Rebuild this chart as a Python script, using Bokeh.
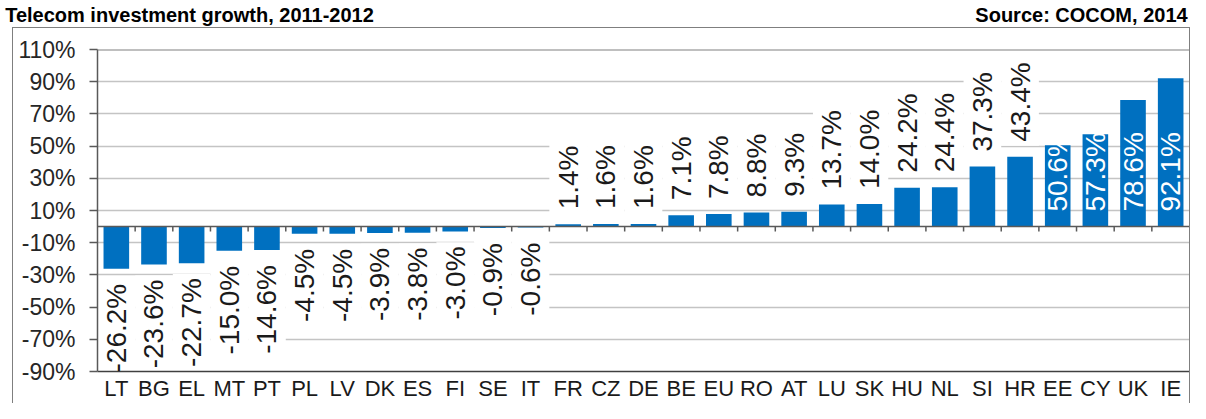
import math
from bokeh.plotting import figure
from bokeh.models import (ColumnDataSource, LabelSet, Span, Range1d, LinearAxis,
                          FixedTicker, PrintfTickFormatter)
from bokeh.core.properties import value
from bokeh.embed import file_html
from bokeh.resources import INLINE

# ---------------- data ----------------
countries = ["LT", "BG", "EL", "MT", "PT", "PL", "LV", "DK", "ES", "FI", "SE", "IT",
             "FR", "CZ", "DE", "BE", "EU", "RO", "AT", "LU", "SK", "HU", "NL", "SI",
             "HR", "EE", "CY", "UK", "IE"]
growth = [-26.2, -23.6, -22.7, -15.0, -14.6, -4.5, -4.5, -3.9, -3.8, -3.0, -0.9, -0.6,
          1.4, 1.6, 1.6, 7.1, 7.8, 8.8, 9.3, 13.7, 14.0, 24.2, 24.4, 37.3,
          43.4, 50.6, 57.3, 78.6, 92.1]
y_ticks = [-90, -70, -50, -30, -10, 10, 30, 50, 70, 90, 110]
inside_labels = ["EE", "CY", "UK", "IE"]
title_text = "Telecom investment growth, 2011-2012"
source_text = "Source: COCOM, 2014"

# ---------------- style / layout ----------------
FONT = "Liberation Sans"
BAR = "#0070C0"
LBL_FS = 28          # data label font size (px)
OFF = 15             # gap between bar end and label (px)
PAD = 4              # white box padding around labels (px)

W, H = 1190, 403
ML, MR, MT, MB = 97, 1, 48, 29
FW, FH = W - ML - MR, H - MT - MB
YMIN, YMAX = y_ticks[0], y_ticks[-1]
ppu = FH / (YMAX - YMIN)
N = len(countries)
xpos = [i + 0.5 for i in range(N)]          # category centres on the x scale

ARIAL_W = {**{d: 0.556 for d in "0123456789"}, ".": 0.278, "-": 0.333, "%": 0.889}


def text_px(t):
    return sum(ARIAL_W.get(ch, 0.556) for ch in t) * LBL_FS


labels = [f"{v:.1f}%" for v in growth]
src = ColumnDataSource(dict(x=xpos, v=growth, t=labels))

neg_idx = [i for i, v in enumerate(growth) if v < 0]
pos_idx = [i for i, v in enumerate(growth) if v >= 0 and countries[i] not in inside_labels]
ins_idx = [i for i in range(N) if countries[i] in inside_labels]

neg = ColumnDataSource(dict(
    x=[xpos[i] for i in neg_idx], v=[growth[i] for i in neg_idx], t=[labels[i] for i in neg_idx],
    top=[growth[i] - (OFF - PAD) / ppu for i in neg_idx],
    bot=[growth[i] - (OFF + text_px(labels[i]) + PAD) / ppu for i in neg_idx]))
pos = ColumnDataSource(dict(
    x=[xpos[i] for i in pos_idx], v=[growth[i] for i in pos_idx], t=[labels[i] for i in pos_idx],
    bot=[growth[i] + (OFF - PAD) / ppu for i in pos_idx],
    top=[growth[i] + (OFF + text_px(labels[i]) + PAD) / ppu for i in pos_idx]))
ins = ColumnDataSource(dict(
    x=[xpos[i] for i in ins_idx], v=[0 for i in ins_idx], t=[labels[i] for i in ins_idx]))
bounds = ColumnDataSource(dict(x=list(range(1, N))))

p = figure(x_range=Range1d(0, N), y_range=Range1d(YMIN, YMAX),
           width=W, height=H, output_backend="svg", toolbar_location=None,
           min_border_left=ML, min_border_right=MR, min_border_top=MT, min_border_bottom=MB,
           stylesheets=[":host { position: relative; }",
                        ":host::after { content: ''; position: absolute; left: 12px; top: 27px; "
                        "right: 0px; bottom: 0px; border: 1.5px solid #7f7f7f; border-bottom: none; "
                        "pointer-events: none; }"])
p.outline_line_color = None
p.background_fill_color = "white"
p.border_fill_color = "white"

# grid
p.xgrid.grid_line_color = None
p.ygrid.ticker = FixedTicker(ticks=y_ticks[1:-1])
p.ygrid.grid_line_color = "#C4C4C4"
p.ygrid.grid_line_width = 1.5

# y axis
p.yaxis.ticker = FixedTicker(ticks=y_ticks)
p.yaxis.formatter = PrintfTickFormatter(format="%d%%")
p.yaxis.major_label_text_font = FONT
p.yaxis.major_label_text_font_size = "23px"
p.yaxis.major_label_text_color = "#262626"
p.yaxis.axis_line_color = "#595959"
p.yaxis.axis_line_width = 1.5
p.yaxis.major_tick_line_color = "#595959"
p.yaxis.major_tick_line_width = 1.5
p.yaxis.major_tick_out = 8
p.yaxis.major_tick_in = 0
p.yaxis.minor_tick_line_color = None
p.yaxis.major_label_standoff = 14

# x axis: country labels at the bottom, its line forms the bottom frame
p.xaxis.ticker = FixedTicker(ticks=xpos)
p.xaxis.major_label_overrides = {x: c for x, c in zip(xpos, countries)}
p.xaxis.major_label_text_font = FONT
p.xaxis.major_label_text_font_size = "22px"
p.xaxis.major_label_text_color = "#1a1a1a"
p.xaxis.axis_line_color = "#404040"
p.xaxis.axis_line_width = 1.5
p.xaxis.major_tick_line_color = None
p.xaxis.minor_tick_line_color = None
p.xaxis.major_tick_out = 0
p.xaxis.major_tick_in = 0
p.xaxis.major_label_standoff = 4

# header row: title (left) and source (right) as labels of a blank axis above the frame
title_w = 18.56 * 20
source_w = 10.61 * 20
t_center = round(3 + title_w / 2 - ML)
s_center = round(W - 3 - source_w / 2 - ML)
p.extra_x_ranges = {"hdr": Range1d(0, FW)}
hdr = LinearAxis(x_range_name="hdr", ticker=FixedTicker(ticks=[t_center, s_center]),
                 major_label_overrides={t_center: title_text, s_center: source_text})
hdr.axis_line_color = None
hdr.major_tick_line_color = None
hdr.minor_tick_line_color = None
hdr.major_tick_out = 0
hdr.major_tick_in = 0
hdr.major_label_standoff = 24
hdr.major_label_text_font = FONT
hdr.major_label_text_font_size = "20px"
hdr.major_label_text_font_style = "bold"
hdr.major_label_text_color = "black"
p.add_layout(hdr, "above")

# white label boxes (hide gridlines behind the data labels)
p.vbar(x="x", top="top", bottom="bot", width=1.0, source=neg, fill_color="white", line_color=None)
p.vbar(x="x", top="top", bottom="bot", width=1.0, source=pos, fill_color="white", line_color=None)

# bars
p.vbar(x="x", top="v", bottom=0, width=0.68, source=src, fill_color=BAR, line_color=None)

# category boundary tick marks below the zero line
p.segment(x0="x", y0=0, x1="x", y1=-5 / ppu, source=bounds, line_color="#595959", line_width=1.5)

# zero line and top frame line
p.add_layout(Span(location=0, dimension="width", line_color="#595959", line_width=1.5))
p.add_layout(Span(location=YMAX, dimension="width", line_color="#808080", line_width=2))

# data labels
common = dict(x="x", y="v", text="t", angle=math.pi / 2, text_baseline="middle",
              text_font=value(FONT), text_font_size=f"{LBL_FS}px")
p.add_layout(LabelSet(source=neg, text_align="right", y_offset=-OFF, text_color="#1a1a1a", **common))
p.add_layout(LabelSet(source=pos, text_align="left", y_offset=OFF, text_color="#1a1a1a", **common))
p.add_layout(LabelSet(source=ins, text_align="left", y_offset=OFF, text_color="white", **common))

open("out.html", "w").write(file_html(p, INLINE))
